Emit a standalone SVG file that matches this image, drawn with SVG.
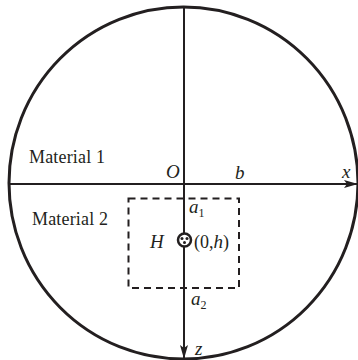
<svg xmlns="http://www.w3.org/2000/svg" width="358" height="360" viewBox="0 0 358 360">
<style>
.lbl{font-family:"Liberation Serif","Times New Roman",serif;font-size:18px;fill:#231f20}
.it{font-style:italic;font-size:19px}
.sub{font-size:12px}
.ax{stroke:#231f20;stroke-width:2;fill:none}
</style>
<defs>
<marker id="arr" markerWidth="14" markerHeight="8" refX="13" refY="4" orient="auto" markerUnits="userSpaceOnUse">
<path d="M0,0 L14,4 L0,8 L3,4 Z" fill="#231f20"/>
</marker>
</defs>
<rect width="358" height="360" fill="#ffffff"/>
<g id="boundary">
<ellipse cx="183.5" cy="183" rx="174.5" ry="176" fill="none" stroke="#231f20" stroke-width="3"/>
</g>
<g id="connectors">
<line class="ax" x1="10" y1="184" x2="357" y2="184" marker-end="url(#arr)"/>
<line class="ax" x1="184" y1="7" x2="184" y2="358" marker-end="url(#arr)"/>
</g>
<g id="region">
<rect x="128.5" y="198.5" width="110.5" height="89.5" fill="none" stroke="#231f20" stroke-width="2" stroke-dasharray="7,5"/>
</g>
<g id="source">
<circle cx="184.5" cy="240" r="6.5" fill="#ffffff" stroke="#231f20" stroke-width="2.5"/>
<circle cx="182" cy="238.5" r="1.5" fill="#231f20"/>
<circle cx="187" cy="238.5" r="1.5" fill="#231f20"/>
<circle cx="184.5" cy="242.5" r="1.5" fill="#231f20"/>
</g>
<g id="labels">
<text class="lbl" x="29" y="163" textLength="76">Material 1</text>
<text class="lbl" x="32" y="225" textLength="76">Material 2</text>
<text class="lbl it" x="166" y="178">O</text>
<text class="lbl it" x="235" y="179">b</text>
<text class="lbl it" x="342" y="178">x</text>
<text class="lbl it" x="189" y="213">a<tspan class="sub" font-style="normal" dy="4">1</tspan></text>
<text class="lbl it" x="150" y="248">H</text>
<text class="lbl" x="194" y="248">(0,<tspan class="it">h</tspan>)</text>
<text class="lbl it" x="191" y="305">a<tspan class="sub" font-style="normal" dy="4">2</tspan></text>
<text class="lbl it" x="195" y="355">z</text>
</g>
</svg>
